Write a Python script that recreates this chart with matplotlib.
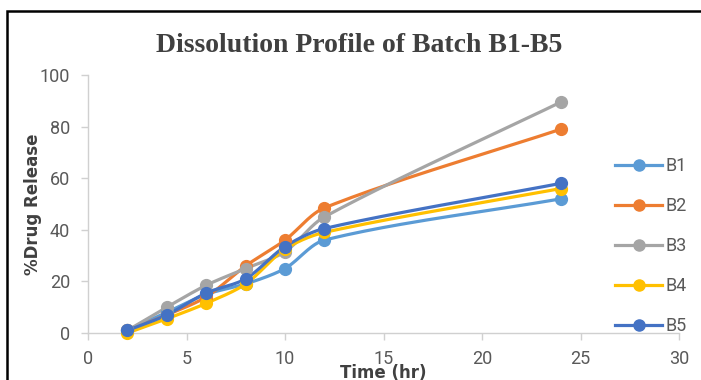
import numpy as np
import matplotlib
matplotlib.use("Agg")
import matplotlib.pyplot as plt
from matplotlib.lines import Line2D
from matplotlib.patches import Rectangle

# Dissolution data: time (hr) vs cumulative % drug release
time_hr = [2, 4, 6, 8, 10, 12, 24]
b1 = [1.0, 8.0, 15.0, 19.0, 25.0, 36.0, 52.0]
b2 = [1.0, 7.0, 14.0, 26.0, 36.0, 48.5, 79.0]
b3 = [1.0, 10.0, 18.5, 25.0, 31.5, 45.0, 89.5]
b4 = [0.0, 5.5, 11.5, 19.0, 32.5, 39.0, 56.0]
b5 = [1.0, 7.0, 15.5, 21.0, 33.5, 40.5, 58.0]
series_names = ["B1", "B2", "B3", "B4", "B5"]
series_colors = ["#5B9BD5", "#ED7D31", "#A5A5A5", "#FFC000", "#4472C4"]

x_ticks = [0, 5, 10, 15, 20, 25, 30]
y_ticks = [0, 20, 40, 60, 80, 100]

W, H = 701, 380
fig = plt.figure(figsize=(W / 100, H / 100), dpi=100)
fig.patch.set_facecolor("white")

left, right, bottom, top = 88 / W, 679 / W, 1 - 333 / H, 1 - 75 / H
ax = fig.add_axes([left, bottom, right - left, top - bottom])
ax.set_xlim(0, 30)
ax.set_ylim(0, 100)

# pixel scale used to make the smoothing isotropic on screen
sx = (679 - 88) / 30.0
sy = (333 - 75) / 100.0


def smooth_curve(xs, ys, k=0.3, n=40):
    """Bezier smoothing through the points (tangent from neighbours)."""
    P = np.column_stack([np.asarray(xs, float) * sx, np.asarray(ys, float) * sy])
    m = len(P)
    dirs = []
    for i in range(m):
        if i == 0:
            d = P[1] - P[0]
        elif i == m - 1:
            d = P[-1] - P[-2]
        else:
            d = P[i + 1] - P[i - 1]
        dirs.append(d / (np.linalg.norm(d) + 1e-12))
    out = [P[0]]
    t = np.linspace(0, 1, n)[1:, None]
    for i in range(m - 1):
        seg = np.linalg.norm(P[i + 1] - P[i])
        c1 = P[i] + dirs[i] * seg * k
        c2 = P[i + 1] - dirs[i + 1] * seg * k
        pts = ((1 - t) ** 3) * P[i] + 3 * ((1 - t) ** 2) * t * c1 \
            + 3 * (1 - t) * t ** 2 * c2 + t ** 3 * P[i + 1]
        out.extend(pts)
    out = np.array(out)
    return out[:, 0] / sx, out[:, 1] / sy


all_series = [b1, b2, b3, b4, b5]
for vals, name, col in zip(all_series, series_names, series_colors):
    cx, cy = smooth_curve(time_hr, vals)
    ax.plot(cx, cy, color=col, lw=2.3, solid_capstyle="round", zorder=3)
    ax.plot(time_hr, vals, ls="none", marker="o", ms=8.5, color=col,
            markeredgecolor=col, zorder=4, clip_on=False)

axis_gray = "#D0D0D0"
tick_text = "#595959"
for side in ["top", "right"]:
    ax.spines[side].set_visible(False)
ax.spines["left"].set_color(axis_gray)
ax.spines["bottom"].set_color(axis_gray)
ax.spines["left"].set_linewidth(1.0)
ax.spines["bottom"].set_linewidth(1.0)

narrow = ["Liberation Sans Narrow", "Roboto", "DejaVu Sans"]
ax.set_xticks(x_ticks)
ax.set_yticks(y_ticks)
ax.set_xticklabels([str(v) for v in x_ticks], family=narrow, fontsize=13, color=tick_text)
ax.set_yticklabels([str(v) for v in y_ticks], family=narrow, fontsize=13, color=tick_text)
ax.tick_params(axis="both", colors=axis_gray, length=5, width=1.0, labelcolor=tick_text)
ax.tick_params(axis="x", pad=7)
ax.tick_params(axis="y", pad=8)

ax.set_xlabel("Time (hr)", fontsize=12, fontweight="bold", color="#404040",
              family=["DejaVu Sans"], labelpad=-3)
ax.set_ylabel("%Drug Release", fontsize=12, fontweight="bold", color="#404040",
              family=["DejaVu Sans"], labelpad=-2)

fig.text(359 / W, 1 - 46 / H, "Dissolution Profile of Batch B1-B5",
         ha="center", va="center", fontsize=20, fontweight="bold",
         color="#404040", family=["Liberation Serif", "DejaVu Serif"])

handles = [Line2D([0], [0], color=c, lw=2.3, marker="o", ms=8, markeredgecolor=c)
           for c in series_colors]
leg = ax.legend(handles, series_names, loc="upper left",
                bbox_to_anchor=(606 / W, 1 - 148 / H), bbox_transform=fig.transFigure,
                frameon=False, handlelength=2.6, handletextpad=0.2,
                labelspacing=1.22, borderpad=0,
                prop={"family": narrow, "size": 13})
for t in leg.get_texts():
    t.set_color(tick_text)

# outer frame around the chart area
fig.patches.append(Rectangle((7 / W, -0.05), 1.0, 1 - 11 / H + 0.05,
                             transform=fig.transFigure, fill=False,
                             edgecolor="black", lw=1.8, zorder=10))

fig.savefig("out.png", dpi=100)
